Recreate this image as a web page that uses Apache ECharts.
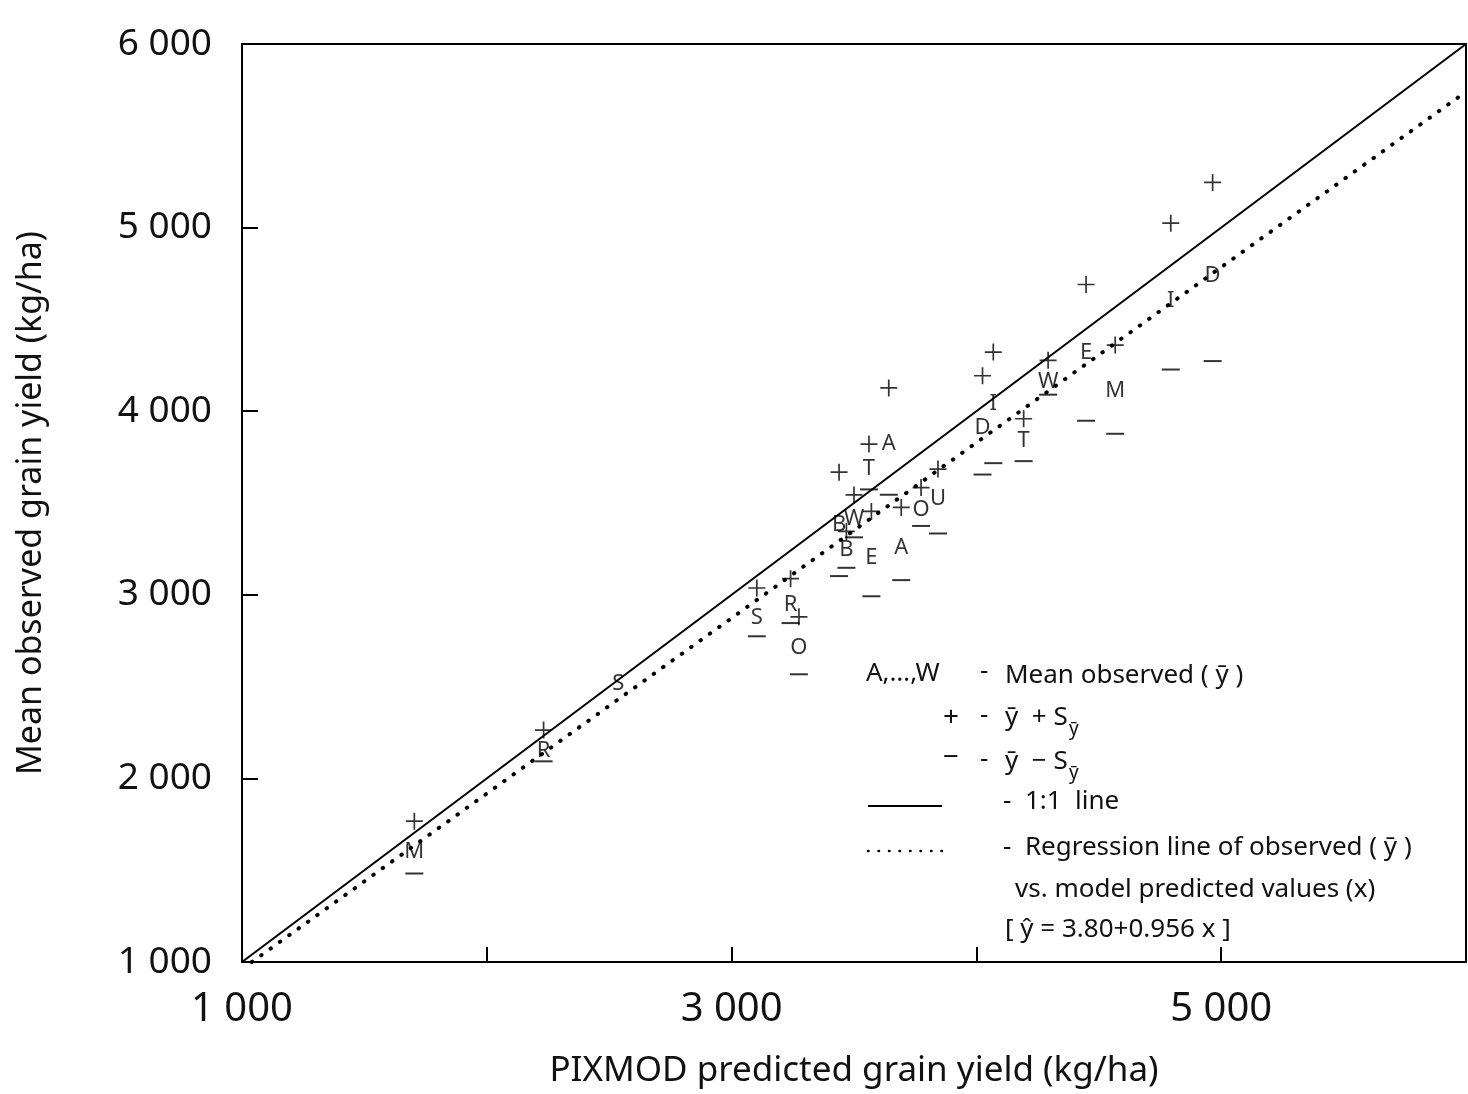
<!DOCTYPE html>
<html>
<head>
<meta charset="utf-8">
<script src="https://cdn.jsdelivr.net/npm/echarts@6/dist/echarts.min.js"></script>
<style>
html,body{margin:0;padding:0;background:#fff;}
#chart{width:1468px;height:1094px;}
</style>
</head>
<body>
<div id="chart"></div>
<script>
// ---- data ----
const siteLabels = ['M','R','S','S','R','O','B','W','B','E','T','A','A','O','U','D','I','T','W','E','M','I','D'];
const predicted  = [1704,2232,2537,3103,3241,3275,3439,3500,3469,3571,3561,3642,3693,3774,3843,4025,4069,4193,4293,4448,4567,4794,4965];
const meanObs    = [1602,2148,2513,2873,2945,2710,3382,3412,3246,3201,3684,3825,3256,3463,3521,3908,4041,3838,4161,4316,4113,4601,4740];
const plusSE     = [1767,2263,null,3037,3088,2880,3668,3544,3345,3454,3821,4127,3476,3584,3685,4193,4322,3959,4277,4690,4360,5024,5246];
const minusSE    = [1482,2093,null,2774,2846,2567,3102,3313,3147,2992,3574,3545,3080,3375,3334,3655,3717,3728,4090,3948,3877,4227,4273];
const oneToOne   = [[1000,1000],[6000,6000]];
const regLine    = [[1040,1000],[6000,5740]];
const xTickLabels = {1000:'1 000', 3000:'3 000', 5000:'5 000'};
const yTickLabels = {1000:'1 000',2000:'2 000',3000:'3 000',4000:'4 000',5000:'5 000',6000:'6 000'};

const FONT = '"Noto Sans", "DejaVu Sans", sans-serif';
const chart = echarts.init(document.getElementById('chart'), null, {renderer:'canvas'});

function pairs(ys){
  const out=[];
  predicted.forEach((x,i)=>{ if(ys[i]!=null) out.push([x, ys[i]]); });
  return out;
}

const txt = (x,y,text,size,extra) => Object.assign({
  type:'text', x:x, y:y, silent:true,
  style:{text:text, fontSize:size||26, fontFamily:FONT, fill:'#111', verticalAlign:'middle', align:'left'}
}, extra||{});

const option = {
  animation:false,
  backgroundColor:'#fff',
  grid:{left:242, right:2, top:44, bottom:132, containLabel:false, outerBoundsMode:'none',
        show:true, borderColor:'#000', borderWidth:2, backgroundColor:'transparent'},
  xAxis:{
    type:'value', min:1000, max:6000, interval:1000,
    name:'PIXMOD predicted grain yield (kg/ha)', nameLocation:'middle', nameGap:92,
    nameTextStyle:{fontSize:35, fontFamily:FONT, color:'#111'},
    axisLine:{show:true, lineStyle:{color:'#000', width:2}},
    axisTick:{show:true, inside:true, length:15, lineStyle:{color:'#000', width:2}},
    axisLabel:{fontSize:40, fontFamily:FONT, color:'#111', margin:28,
      formatter:v=>xTickLabels[v]||''},
    splitLine:{show:false}
  },
  yAxis:{
    type:'value', min:1000, max:6000, interval:1000,
    name:'Mean observed grain yield (kg/ha)', nameLocation:'middle', nameGap:194,
    nameTextStyle:{fontSize:34, fontFamily:FONT, color:'#111'},
    axisLine:{show:true, lineStyle:{color:'#000', width:2}},
    axisTick:{show:true, inside:true, length:16, lineStyle:{color:'#000', width:2}},
    axisLabel:{fontSize:37, fontFamily:FONT, color:'#111', margin:30,
      formatter:v=>yTickLabels[v]||''},
    splitLine:{show:false}
  },
  series:[
    {type:'line', data:oneToOne, showSymbol:false, silent:true,
     lineStyle:{color:'#000', width:2}},
    {type:'line', data:regLine, showSymbol:false, silent:true,
     lineStyle:{color:'#000', width:4, type:[0.5,11], cap:'round'}},
    {type:'scatter', data:pairs(plusSE), silent:true,
     symbol:'path://M9,0 h2 v20 h-2 z M0,9 h20 v2 h-20 z', symbolSize:[17,17],
     itemStyle:{color:'#000'}},
    {type:'scatter', data:pairs(minusSE), silent:true,
     symbol:'rect', symbolSize:[18,2], itemStyle:{color:'#000'}},
    {type:'scatter', silent:true,
     data:predicted.map((x,i)=>[x, meanObs[i], siteLabels[i]]),
     symbolSize:1, itemStyle:{color:'rgba(0,0,0,0)'},
     label:{show:true, position:'inside', formatter:p=>p.value[2], fontSize:22, fontFamily:FONT, color:'#000'}}
  ],
  graphic:[
    txt(866,674,'A,…,W',26),
    txt(980,672,'-',26),
    txt(1005,676,'Mean observed ( ȳ )',26),
    txt(943,718,'+',28),
    txt(980,716,'-',26),
    txt(1005,718,'ȳ  + S',26),
    txt(1069,730,'ȳ',19),
    txt(943,758,'−',28),
    txt(980,760,'-',26),
    txt(1005,762,'ȳ  − S',26),
    txt(1069,774,'ȳ',19),
    {type:'line', silent:true, shape:{x1:868,y1:806,x2:942,y2:806}, style:{stroke:'#000', lineWidth:2}},
    txt(1003,802,'-  1:1  line',26),
    {type:'line', silent:true, shape:{x1:868,y1:851,x2:945,y2:851}, style:{stroke:'#000', lineWidth:2.5, lineDash:[0.5,10], lineCap:'round'}},
    txt(1003,848,'-  Regression line of observed ( ȳ )',26),
    txt(1015,890,'vs. model predicted values (x)',26),
    txt(1005,930,'[ ŷ = 3.80+0.956 x ]',26)
  ]
};
chart.setOption(option);
</script>
</body>
</html>
